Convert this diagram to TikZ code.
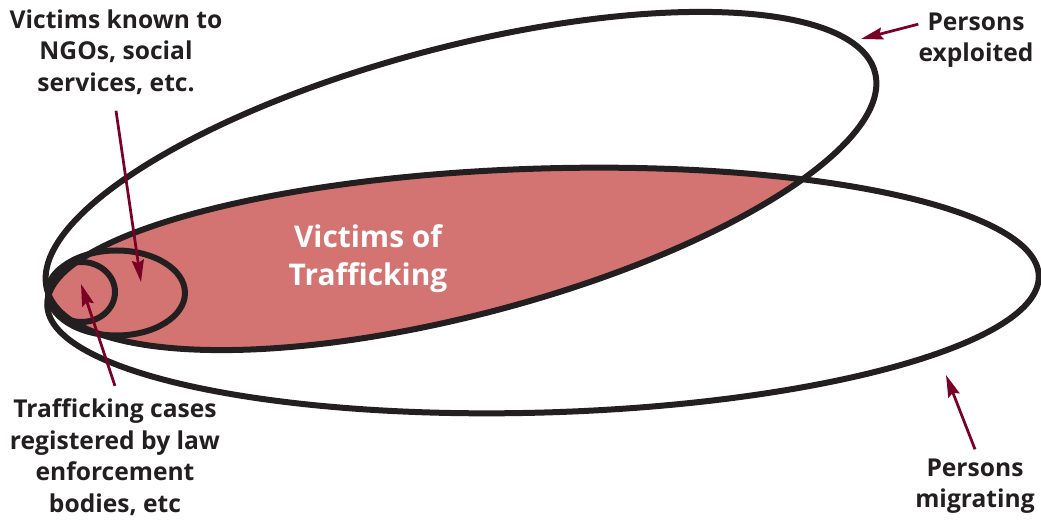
\documentclass[tikz,border=0pt]{standalone}
\usepackage{fontspec}
\setmainfont{Open Sans}
\usepackage{xcolor}
\usetikzlibrary{arrows.meta}
\definecolor{victimred}{HTML}{D47472}
\definecolor{arrowred}{HTML}{7A0026}
\definecolor{inkgray}{HTML}{231F20}

\begin{document}
\begin{tikzpicture}[x=0.02cm,y=0.02cm,
  ring/.style={line width=0.12cm,draw=inkgray},
  pointer/.style={-{Stealth[length=0.44cm,width=0.24cm,inset=0.06cm]},line width=0.055cm,draw=arrowred},
  tag/.style={font=\bfseries\fontsize{14}{18}\selectfont,text=inkgray,align=center,inner sep=0pt}]
\useasboundingbox (0,0) rectangle (1041,520);
% overlap of the two big sets
\begin{scope}
\clip[rotate around={14.7:(461,339)}] (461,339) ellipse [x radius=428,y radius=134];
\fill[victimred,rotate around={1.7:(543,229.5)}] (543,229.5) ellipse [x radius=496,y radius=122];
\end{scope}
\draw[ring,rotate around={14.7:(461,339)}] (461,339) ellipse [x radius=428,y radius=134];
\draw[ring,rotate around={1.7:(543,229.5)}] (543,229.5) ellipse [x radius=496,y radius=122];
\draw[ring] (116.5,227) ellipse [x radius=68.5,y radius=42.5];
\draw[ring] (81.5,228) ellipse [x radius=33.5,y radius=30];
\node[font=\bfseries\fontsize{17}{21.5}\selectfont,text=white,align=center] (vot) at (368,261) {Victims of\\Trafficking};
% labels
\node[tag] (ngo) at (116,468) {Victims known to\\NGOs, social\\services, etc.};
\node[tag] (law) at (115,63) {Trafficking cases\\registered by law\\enforcement\\bodies, etc};
\node[tag] (expl) at (976,480) {Persons\\exploited};
\node[tag] (migr) at (975,34) {Persons\\migrating};
\coordinate (ngotip) at (141,238);
\coordinate (lawtip) at (81,236);
\coordinate (expltip) at (861,481);
\coordinate (migrtip) at (946,145);
\draw[pointer] ([yshift=-9pt]ngo.south) -- (ngotip);
\draw[pointer] ([yshift=7pt]law.north) -- (lawtip);
\draw[pointer] ([yshift=9pt]expl.west) -- (expltip);
\draw[pointer] ([yshift=5pt]migr.north) -- (migrtip);
\end{tikzpicture}
\end{document}
